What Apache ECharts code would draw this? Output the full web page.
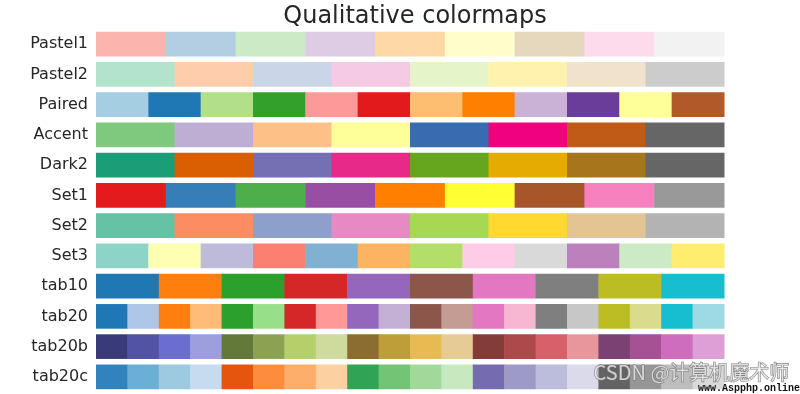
<!DOCTYPE html>
<html>
<head>
<meta charset="utf-8">
<script src="https://cdn.jsdelivr.net/npm/echarts@6/dist/echarts.min.js"></script>
<style>html,body{margin:0;padding:0;background:#fff;}#c{width:800px;height:394px;}</style>
</head>
<body>
<div id="c"></div>
<script>
const cmapNames = ['Pastel1','Pastel2','Paired','Accent','Dark2','Set1','Set2','Set3','tab10','tab20','tab20b','tab20c'];
const Pastel1 = ['#fbb4ae','#b3cde3','#ccebc5','#decbe4','#fed9a6','#ffffcc','#e5d8bd','#fddaec','#f2f2f2'];
const Pastel2 = ['#b3e2cd','#fdcdac','#cbd5e8','#f4cae4','#e6f5c9','#fff2ae','#f1e2cc','#cccccc'];
const Paired = ['#a6cee3','#1f78b4','#b2df8a','#33a02c','#fb9a99','#e31a1c','#fdbf6f','#ff7f00','#cab2d6','#6a3d9a','#ffff99','#b15928'];
const Accent = ['#7fc97f','#beaed4','#fdc086','#ffff99','#386cb0','#f0027f','#bf5b17','#666666'];
const Dark2 = ['#1b9e77','#d95f02','#7570b3','#e7298a','#66a61e','#e6ab02','#a6761d','#666666'];
const Set1 = ['#e41a1c','#377eb8','#4daf4a','#984ea3','#ff7f00','#ffff33','#a65628','#f781bf','#999999'];
const Set2 = ['#66c2a5','#fc8d62','#8da0cb','#e78ac3','#a6d854','#ffd92f','#e5c494','#b3b3b3'];
const Set3 = ['#8dd3c7','#ffffb3','#bebada','#fb8072','#80b1d3','#fdb462','#b3de69','#fccde5','#d9d9d9','#bc80bd','#ccebc5','#ffed6f'];
const tab10 = ['#1f77b4','#ff7f0e','#2ca02c','#d62728','#9467bd','#8c564b','#e377c2','#7f7f7f','#bcbd22','#17becf'];
const tab20 = ['#1f77b4','#aec7e8','#ff7f0e','#ffbb78','#2ca02c','#98df8a','#d62728','#ff9896','#9467bd','#c5b0d5','#8c564b','#c49c94','#e377c2','#f7b6d2','#7f7f7f','#c7c7c7','#bcbd22','#dbdb8d','#17becf','#9edae5'];
const tab20b = ['#393b79','#5254a3','#6b6ecf','#9c9ede','#637939','#8ca252','#b5cf6b','#cedb9c','#8c6d31','#bd9e39','#e7ba52','#e7cb94','#843c39','#ad494a','#d6616b','#e7969c','#7b4173','#a55194','#ce6dbd','#de9ed6'];
const tab20c = ['#3182bd','#6baed6','#9ecae1','#c6dbef','#e6550d','#fd8d3c','#fdae6b','#fdd0a2','#31a354','#74c476','#a1d99b','#c7e9c0','#756bb1','#9e9ac8','#bcbddc','#dadaeb','#636363','#969696','#bdbdbd','#d9d9d9'];
const cmapColors = [Pastel1,Pastel2,Paired,Accent,Dark2,Set1,Set2,Set3,tab10,tab20,tab20b,tab20c];

// build cells: [rowIndex, start, end, color]
const cells = [];
cmapColors.forEach((cols, r) => {
  const n = cols.length;
  cols.forEach((c, k) => cells.push([r, k / n, (k + 1) / n, c]));
});

const chart = echarts.init(document.getElementById('c'));
chart.setOption({
  animation: false,
  title: {
    text: 'Qualitative colormaps',
    left: 410, textAlign: 'center', top: 0,
    textStyle: { fontFamily: 'DejaVu Sans', fontSize: 24, fontWeight: 'normal', color: '#262626' }
  },
  grid: { left: 96, right: 76, top: 29, bottom: 2 },
  xAxis: { type: 'value', min: 0, max: 1, show: false },
  yAxis: {
    type: 'category', data: cmapNames, inverse: true,
    axisLine: { show: false }, axisTick: { show: false }, splitLine: { show: false },
    axisLabel: { fontFamily: 'DejaVu Sans', fontSize: 16, color: '#262626', margin: 8 }
  },
  series: [{
    type: 'custom',
    data: cells,
    encode: { x: [1, 2], y: 0 },
    renderItem: function (params, api) {
      const r = api.value(0);
      const p0 = api.coord([api.value(1), r]);
      const p1 = api.coord([api.value(2), r]);
      const h = api.size([0, 1])[1] * 0.815;
      return {
        type: 'rect',
        shape: { x: p0[0], y: p0[1] - h / 2, width: p1[0] - p0[0] + 0.5, height: h },
        style: { fill: cells[params.dataIndex][3] }
      };
    }
  }],
  graphic: [
    {
      type: 'text', left: 593, top: 362, z: 100,
      style: { text: 'CSDN @计算机魔术师', font: '20px "Noto Sans CJK SC"', fill: 'rgba(255,255,255,0.7)', stroke: 'rgba(110,110,110,0.85)', lineWidth: 1.2 }
    },
    {
      type: 'text', left: 698, top: 383, z: 100,
      style: { text: 'www.Aspphp.online', font: 'bold 10px "Liberation Mono"', fill: '#111' }
    }
  ]
});
</script>
</body>
</html>
